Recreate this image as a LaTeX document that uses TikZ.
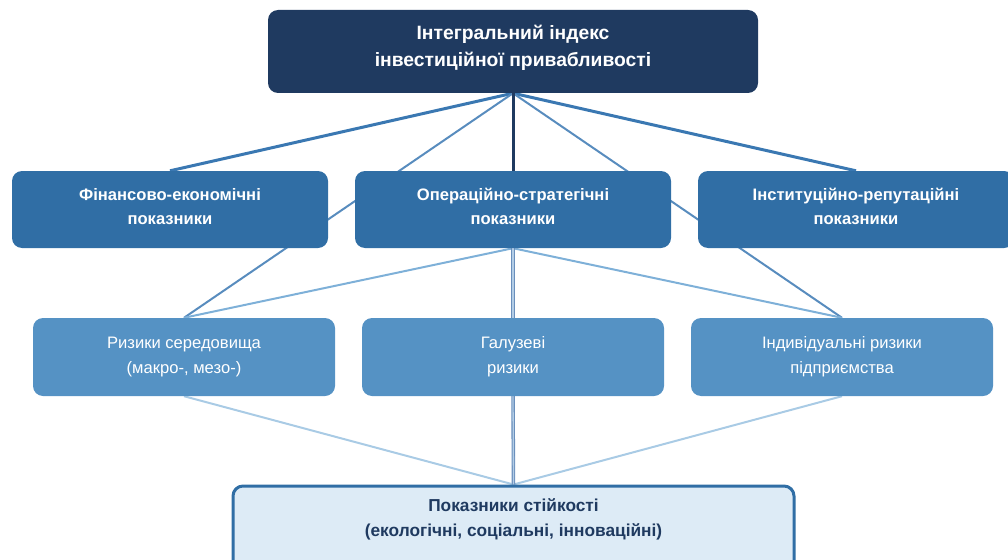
\documentclass[tikz,border=0pt]{standalone}
\usepackage{fontspec}
\setmainfont{Liberation Sans}
\usetikzlibrary{backgrounds}
\definecolor{navy}{HTML}{1F3A60}
\definecolor{midblue}{HTML}{306EA5}
\definecolor{lightblue}{HTML}{5592C4}
\definecolor{paleblue}{HTML}{DDEBF6}
\definecolor{lineA}{HTML}{3A78B2}
\definecolor{lineB}{HTML}{7EB0D8}
\definecolor{lineC}{HTML}{A9CBE5}
\definecolor{dbl}{HTML}{6A8FBC}
\definecolor{dblin}{HTML}{B3CDE6}
\tikzset{
  box/.style={rounded corners=10pt, inner sep=0pt, align=center},
  topbox/.style={box, fill=navy, text=white, font=\fontsize{19.3}{27}\selectfont\bfseries, minimum width=490pt, minimum height=83pt, text depth=11pt},
  lvltwo/.style={box, fill=midblue, text=white, font=\fontsize{16.6}{24}\selectfont\bfseries, minimum width=316pt, minimum height=77pt, text depth=6pt},
  lvlthree/.style={box, fill=lightblue, text=white, font=\fontsize{16.6}{25}\selectfont, minimum width=302pt, minimum height=78pt, text depth=3.5pt},
  basebox/.style={box, fill=paleblue, draw=midblue, line width=3pt, minimum width=561pt, minimum height=120pt},
  basetext/.style={text=navy, font=\fontsize{17.3}{25}\selectfont\bfseries, align=center, inner sep=0pt},
  thickline/.style={draw=lineA, line width=3pt},
  thinline/.style={draw=lineA!85!white, line width=2pt},
  linkB/.style={draw=lineB, line width=2pt},
  linkC/.style={draw=lineC, line width=2pt},
  dblline/.style={draw=dbl, line width=1.1pt, double=dblin, double distance=1.3pt},
}
\begin{document}
\begin{tikzpicture}[x=1pt, y=-1pt]
\useasboundingbox (0,0) rectangle (1008,559);
\clip (0,0) rectangle (1008,559);
\node[topbox] (top) at (513,51.5) {Інтегральний індекс\\інвестиційної привабливості};
\node[lvltwo] (fin) at (170,209.5) {Фінансово-економічні\\показники};
\node[lvltwo] (op) at (513,209.5) {Операційно-стратегічні\\показники};
\node[lvltwo] (inst) at (856,209.5) {Інституційно-репутаційні\\показники};
\node[lvlthree] (env) at (184,357) {Ризики середовища\\(макро-, мезо-)};
\node[lvlthree] (ind) at (513,357) {Галузеві\\ризики};
\node[lvlthree] (firm) at (842,357) {Індивідуальні ризики\\підприємства};
\node[basebox, anchor=north] (sust) at (513.5,484.5) {};
\node[basetext] (sustxt) at (513.5,519) {Показники стійкості\\(екологічні, соціальні, інноваційні)};
\begin{scope}[on background layer]
  \draw[thickline] (top.south) -- (fin.north);
  \draw[thickline] (top.south) -- (inst.north);
  \draw[thinline] (top.south) -- (env.north);
  \draw[thinline] (top.south) -- (firm.north);
  \draw[draw=navy, line width=3pt] (top.south) -- (op.north);
  \draw[linkB] (op.south) -- (env.north);
  \draw[linkB] (op.south) -- (firm.north);
  \draw[dblline] (op.south) -- (ind.north);
  \draw[linkC] (env.south) -- (sust.north);
  \draw[linkC] (firm.south) -- (sust.north);
  \draw[dblline] (ind.south) -- (sust.north);
\end{scope}
\end{tikzpicture}
\end{document}
